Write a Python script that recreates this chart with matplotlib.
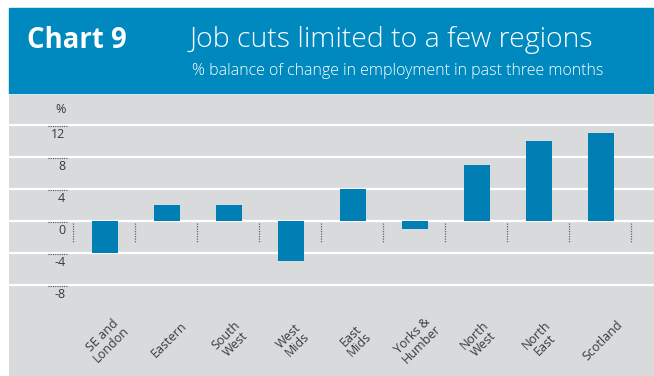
import numpy as np
import matplotlib.pyplot as plt
from matplotlib.patches import Rectangle

regions = ['SE and\nLondon', 'Eastern', 'South\nWest', 'West\nMids', 'East\nMids',
           'Yorks &\nHumber', 'North\nWest', 'North\nEast', 'Scotland']
balance = [-4, 2, 2, -5, 4, -1, 7, 10, 11]
yticks = [12, 8, 4, 0, -4, -8]

blue_head = '#0089be'
blue_bar = '#007fb5'
grey_bg = '#d9dadc'
txt = '#3a3a3a'

plt.rcParams['font.family'] = ['Open Sans', 'DejaVu Sans']

W, H = 654, 376
fig = plt.figure(figsize=(W / 100, H / 100), dpi=100)

# header box
fig.patches.append(Rectangle((9 / W, 1 - 93 / H), 1 - 9 / W, 85 / H,
                             transform=fig.transFigure, color=blue_head, zorder=0))
fig.text(27 / W, 1 - 40 / H, 'Chart 9', color='white', fontsize=19.8,
         fontweight='bold', va='center', ha='left')
fig.text(190 / W, 1 - 40 / H, 'Job cuts limited to a few regions', color='white',
         fontsize=20.5, fontweight='light', va='center', ha='left')
fig.text(192 / W, 1 - 71 / H, '% balance of change in employment in past three months',
         color='white', fontsize=11.5, fontweight='light', va='center', ha='left')

# plot area: zero at y=221px, 8 px per unit; bar centres every 62 px starting at 105
ax = fig.add_axes([9 / W, 0, 1 - 9 / W, (H - 95) / H])
ax.set_facecolor(grey_bg)
ax.set_xlim((9 - 105) / 62, (654 - 105) / 62)
ax.set_ylim(-(376 - 221) / 8, (221 - 95) / 8)
for s in ax.spines.values():
    s.set_visible(False)
ax.set_xticks([])
ax.set_yticks([])

x = np.arange(len(regions))
for v in yticks:
    ax.axhline(v, color='white', lw=1.6, zorder=1)
    ax.plot([-0.92, -0.6], [v - 0.15, v - 0.15], color='#555555', lw=0.8,
            ls=(0, (1, 1)), zorder=2)
    ax.text(-0.64, v - 1.2, str(v), ha='right', va='center', fontsize=9, color=txt)
ax.text(-0.64, 13.9, '%', ha='right', va='center', fontsize=9, color=txt)

ax.bar(x, balance, width=0.41, color=blue_bar, zorder=3)

for xs in np.arange(len(regions) + 1) - 0.52:
    ax.plot([xs, xs], [-0.3, -2.75], color='#666666', lw=0.9, ls=(0, (1, 1)), zorder=2)

for i, lab in enumerate(regions):
    ax.text(i + 0.03, -14.9, lab, rotation=45, ha='center', va='center',
            fontsize=9, color=txt, linespacing=0.95)

fig.savefig('out.png', dpi=100)
